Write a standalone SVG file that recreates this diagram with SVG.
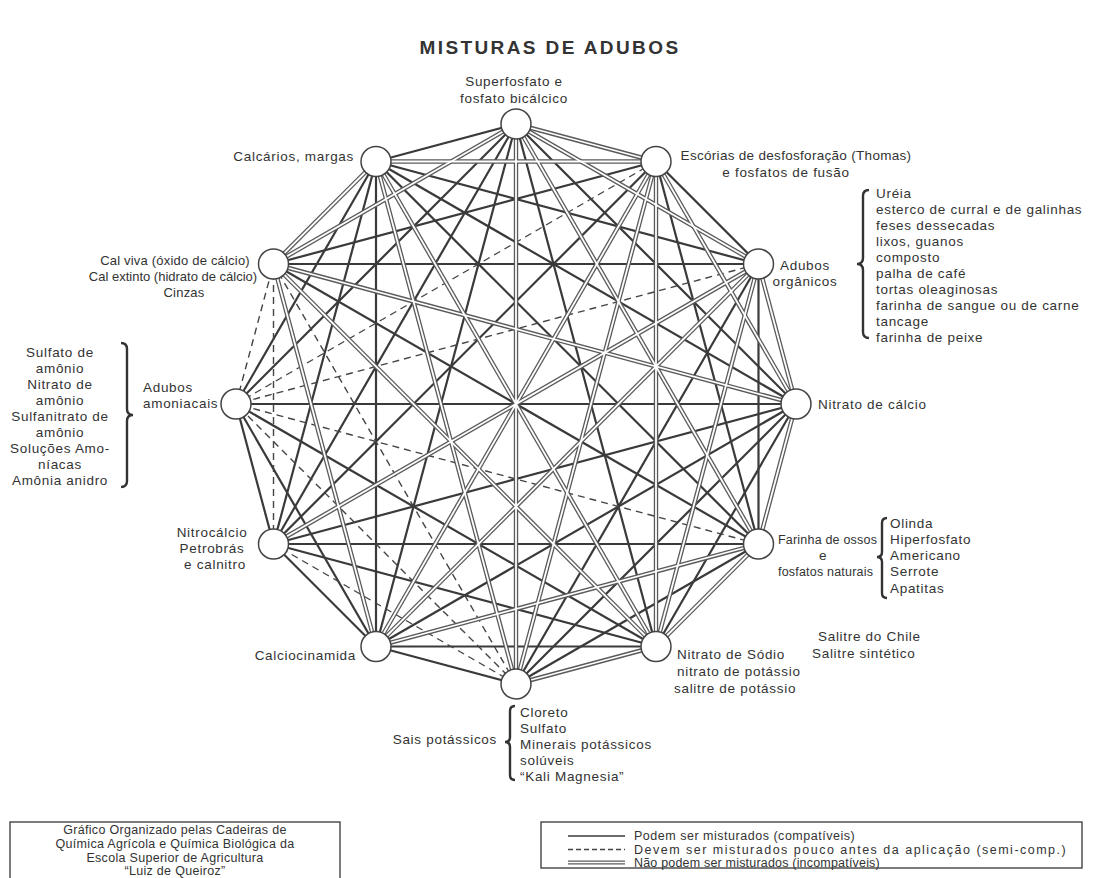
<svg xmlns="http://www.w3.org/2000/svg" xmlns:xlink="http://www.w3.org/1999/xlink" width="1104" height="878" viewBox="0 0 1104 878">
<style>
text{font-family:"Liberation Sans",Arial,sans-serif;font-size:13.5px;fill:#333;letter-spacing:0.7px}
.t{font-size:19px;font-weight:bold;letter-spacing:2.4px;fill:#333}
.sm{font-size:12.5px;letter-spacing:0.3px}
.n13{font-size:13px;letter-spacing:0.2px}
.m{text-anchor:middle}
.e{text-anchor:end}
.s line{stroke:#3a3a3a;stroke-width:2.2}
.d line{stroke:#444;stroke-width:1.4;stroke-dasharray:7 5}
.node{fill:#fff;stroke:#444;stroke-width:1.5}
.br{fill:none;stroke:#333;stroke-width:2.4}
.box{fill:none;stroke:#444;stroke-width:1.4}
</style>
<defs>
<g id="dbl">
<line x1="516" y1="124" x2="656" y2="161.5"/>
<line x1="516" y1="124" x2="758.5" y2="264"/>
<line x1="516" y1="124" x2="758.5" y2="544"/>
<line x1="516" y1="124" x2="516" y2="684"/>
<line x1="516" y1="124" x2="273.5" y2="264"/>
<line x1="656" y1="161.5" x2="656" y2="646.5"/>
<line x1="656" y1="161.5" x2="376" y2="161.5"/>
<line x1="656" y1="161.5" x2="376" y2="646.5"/>
<line x1="656" y1="161.5" x2="516" y2="684"/>
<line x1="656" y1="161.5" x2="796" y2="404"/>
<line x1="758.5" y1="264" x2="796" y2="404"/>
<line x1="758.5" y1="264" x2="656" y2="646.5"/>
<line x1="758.5" y1="264" x2="376" y2="646.5"/>
<line x1="758.5" y1="264" x2="273.5" y2="544"/>
<line x1="796" y1="404" x2="758.5" y2="544"/>
<line x1="796" y1="404" x2="273.5" y2="264"/>
<line x1="758.5" y1="544" x2="656" y2="646.5"/>
<line x1="758.5" y1="544" x2="376" y2="646.5"/>
<line x1="656" y1="646.5" x2="516" y2="684"/>
<line x1="656" y1="646.5" x2="273.5" y2="264"/>
<line x1="656" y1="646.5" x2="376" y2="161.5"/>
<line x1="516" y1="684" x2="376" y2="161.5"/>
<line x1="376" y1="646.5" x2="273.5" y2="264"/>
<line x1="273.5" y1="264" x2="376" y2="161.5"/>
</g>
</defs>

<text class="t m" x="550" y="54">MISTURAS DE ADUBOS</text>

<g id="connectors">
<g class="s">
<line x1="516" y1="124" x2="796" y2="404"/>
<line x1="516" y1="124" x2="656" y2="646.5"/>
<line x1="516" y1="124" x2="376" y2="646.5"/>
<line x1="516" y1="124" x2="273.5" y2="544"/>
<line x1="516" y1="124" x2="236" y2="404"/>
<line x1="516" y1="124" x2="376" y2="161.5"/>
<line x1="656" y1="161.5" x2="758.5" y2="264"/>
<line x1="656" y1="161.5" x2="758.5" y2="544"/>
<line x1="656" y1="161.5" x2="273.5" y2="544"/>
<line x1="656" y1="161.5" x2="273.5" y2="264"/>
<line x1="758.5" y1="264" x2="758.5" y2="544"/>
<line x1="758.5" y1="264" x2="516" y2="684"/>
<line x1="758.5" y1="264" x2="273.5" y2="264"/>
<line x1="758.5" y1="264" x2="376" y2="161.5"/>
<line x1="796" y1="404" x2="656" y2="646.5"/>
<line x1="796" y1="404" x2="516" y2="684"/>
<line x1="796" y1="404" x2="376" y2="646.5"/>
<line x1="796" y1="404" x2="273.5" y2="544"/>
<line x1="796" y1="404" x2="236" y2="404"/>
<line x1="796" y1="404" x2="376" y2="161.5"/>
<line x1="758.5" y1="544" x2="516" y2="684"/>
<line x1="758.5" y1="544" x2="273.5" y2="544"/>
<line x1="758.5" y1="544" x2="273.5" y2="264"/>
<line x1="758.5" y1="544" x2="376" y2="161.5"/>
<line x1="656" y1="646.5" x2="376" y2="646.5"/>
<line x1="656" y1="646.5" x2="273.5" y2="544"/>
<line x1="656" y1="646.5" x2="236" y2="404"/>
<line x1="516" y1="684" x2="376" y2="646.5"/>
<line x1="376" y1="646.5" x2="273.5" y2="544"/>
<line x1="376" y1="646.5" x2="236" y2="404"/>
<line x1="376" y1="646.5" x2="376" y2="161.5"/>
<line x1="273.5" y1="544" x2="236" y2="404"/>
<line x1="273.5" y1="544" x2="376" y2="161.5"/>
<line x1="236" y1="404" x2="376" y2="161.5"/>
</g>
<g class="d">
<line x1="656" y1="161.5" x2="236" y2="404"/>
<line x1="758.5" y1="264" x2="236" y2="404"/>
<line x1="758.5" y1="544" x2="236" y2="404"/>
<line x1="516" y1="684" x2="273.5" y2="544"/>
<line x1="516" y1="684" x2="236" y2="404"/>
<line x1="516" y1="684" x2="273.5" y2="264"/>
<line x1="273.5" y1="544" x2="273.5" y2="264"/>
<line x1="236" y1="404" x2="273.5" y2="264"/>
</g>
<use xlink:href="#dbl" href="#dbl" stroke="#5a5a5a" stroke-width="4.4"/>
<use xlink:href="#dbl" href="#dbl" stroke="#fff" stroke-width="1.8"/>
</g>

<g id="n-superfosfato"><circle class="node" cx="516" cy="124" r="15"/>
<text class="m" x="514" y="86">Superfosfato e</text><text class="m" x="514" y="103">fosfato bicálcico</text></g>
<g id="n-escorias"><circle class="node" cx="656" cy="161.5" r="15"/>
<text class="m" x="796" y="160" style="letter-spacing:0.3px">Escórias de desfosforação (Thomas)</text><text class="m" x="786" y="177">e fosfatos de fusão</text></g>
<g id="n-organicos"><circle class="node" cx="758.5" cy="264" r="15"/>
<text class="m" x="805" y="270">Adubos</text><text class="m" x="805" y="286">orgânicos</text>
<path class="br" d="M869,190 q-6,0 -6,6 L863,258 q0,6 -6,6 q6,0 6,6 L863,332 q0,6 6,6"/>
<text x="876" y="198">Uréia</text><text x="876" y="214">esterco de curral e de galinhas</text><text x="876" y="230">feses dessecadas</text><text x="876" y="246">lixos, guanos</text><text x="876" y="262">composto</text><text x="876" y="278">palha de café</text><text x="876" y="294">tortas oleaginosas</text><text x="876" y="310">farinha de sangue ou de carne</text><text x="876" y="326">tancage</text><text x="876" y="342">farinha de peixe</text></g>
<g id="n-nitrato-calcio"><circle class="node" cx="796" cy="404" r="15"/>
<text x="818" y="409">Nitrato de cálcio</text></g>
<g id="n-farinha-ossos"><circle class="node" cx="758.5" cy="544" r="15"/>
<text class="n13" x="778" y="544" style="font-size:12.5px">Farinha de ossos</text><text class="m" x="823" y="560">e</text><text class="n13" x="778" y="576" style="font-size:12.5px">fosfatos naturais</text>
<path class="br" d="M887,518 q-5,0 -5,5 L882,552 q0,5 -5,5 q5,0 5,5 L882,593 q0,5 5,5"/>
<text x="890" y="528">Olinda</text><text x="890" y="544">Hiperfosfato</text><text x="890" y="560">Americano</text><text x="890" y="576">Serrote</text><text x="890" y="593">Apatitas</text></g>
<g id="n-nitrato-sodio"><circle class="node" cx="656" cy="646.5" r="15"/>
<text x="677" y="659">Nitrato de Sódio</text><text x="677" y="676">nitrato de potássio</text><text x="674" y="693">salitre de potássio</text>
<text x="818" y="641">Salitre do Chile</text><text x="812" y="658">Salitre sintético</text></g>
<g id="n-sais-potassicos"><circle class="node" cx="516" cy="684" r="15"/>
<text class="e" x="497" y="744">Sais potássicos</text>
<path class="br" d="M515,706 q-5,0 -5,5 L510,737 q0,5 -5,5 q5,0 5,5 L510,775 q0,5 5,5"/>
<text x="520" y="717">Cloreto</text><text x="520" y="733">Sulfato</text><text x="520" y="749">Minerais potássicos</text><text x="520" y="765">solúveis</text><text x="520" y="781">“Kali Magnesia”</text></g>
<g id="n-calciocinamida"><circle class="node" cx="376" cy="646.5" r="15"/>
<text class="e" x="356" y="660">Calciocinamida</text></g>
<g id="n-nitrocalcio"><circle class="node" cx="273.5" cy="544" r="15"/>
<text class="m" x="212" y="537">Nitrocálcio</text><text class="m" x="212" y="553">Petrobrás</text><text class="m" x="215" y="569">e calnitro</text></g>
<g id="n-amoniacais"><circle class="node" cx="236" cy="404" r="15"/>
<text x="143" y="392">Adubos</text><text x="143" y="408">amoniacais</text>
<path class="br" d="M121,343 q6,0 6,6 L127,409 q0,6 6,6 q-6,0 -6,6 L127,481 q0,6 -6,6"/>
<text class="m" x="60" y="357">Sulfato de</text><text class="m" x="60" y="373">amônio</text><text class="m" x="60" y="389">Nitrato de</text><text class="m" x="60" y="405">amônio</text><text class="m" x="60" y="421">Sulfanitrato de</text><text class="m" x="60" y="437">amônio</text><text class="m" x="60" y="453">Soluções Amo-</text><text class="m" x="60" y="469">níacas</text><text class="m" x="60" y="485">Amônia anidro</text></g>
<g id="n-cal-viva"><circle class="node" cx="273.5" cy="264" r="15"/>
<text class="n13 m" x="175" y="265">Cal viva (óxido de cálcio)</text><text class="n13 m" x="173" y="281" style="letter-spacing:0">Cal extinto (hidrato de cálcio)</text><text class="n13 m" x="184" y="297">Cinzas</text></g>
<g id="n-calcarios"><circle class="node" cx="376" cy="161.5" r="15"/>
<text class="e" x="354" y="161">Calcários, margas</text></g>

<g id="credit">
<rect class="box" x="10" y="822" width="330" height="60"/>
<text class="sm m" x="175" y="834">Gráfico Organizado pelas Cadeiras de</text>
<text class="sm m" x="175" y="848">Química Agrícola e Química Biológica da</text>
<text class="sm m" x="175" y="862">Escola Superior de Agricultura</text>
<text class="sm m" x="175" y="875">“Luiz de Queiroz”</text>
</g>
<g id="legend">
<rect class="box" x="541" y="822" width="541" height="46"/>
<line x1="568" y1="836" x2="625" y2="836" stroke="#3a3a3a" stroke-width="1.6"/>
<line x1="568" y1="849.5" x2="625" y2="849.5" stroke="#444" stroke-width="1.3" stroke-dasharray="5 3"/>
<line x1="568" y1="862.5" x2="625" y2="862.5" stroke="#5a5a5a" stroke-width="4"/>
<line x1="568" y1="862.5" x2="625" y2="862.5" stroke="#fff" stroke-width="1.6"/>
<text class="sm" x="634" y="840" textLength="221" lengthAdjust="spacing">Podem ser misturados (compatíveis)</text>
<text class="sm" x="634" y="854" textLength="432" lengthAdjust="spacing">Devem ser misturados pouco antes da aplicação (semi-comp.)</text>
<text class="sm" x="634" y="867" textLength="246" lengthAdjust="spacing">Não podem ser misturados (incompatíveis)</text>
</g>
</svg>
